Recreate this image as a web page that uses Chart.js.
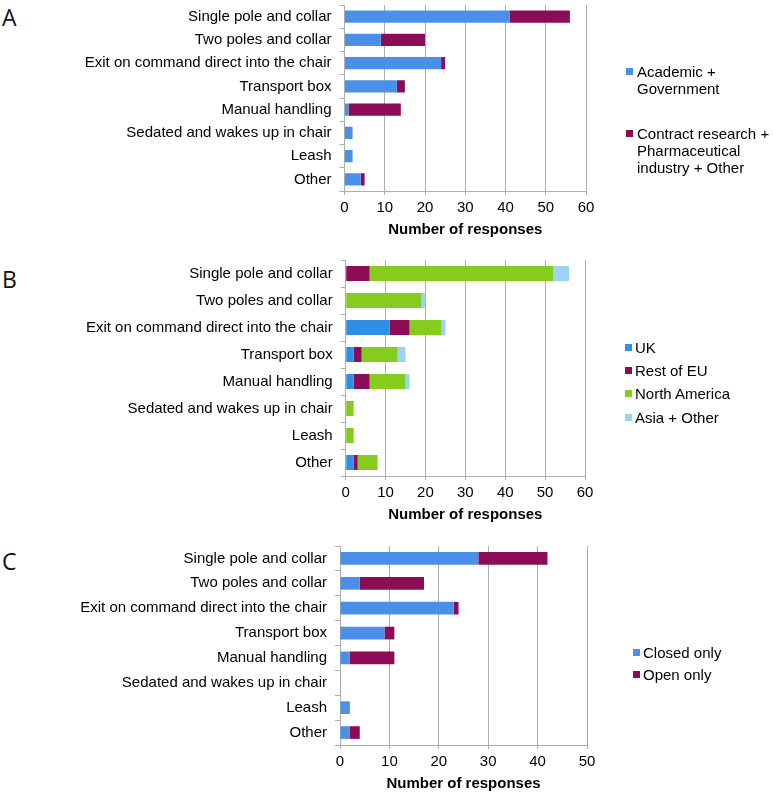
<!DOCTYPE html>
<html>
<head>
<meta charset="utf-8">
<script src="https://cdn.jsdelivr.net/npm/chart.js@4.4.1/dist/chart.umd.min.js"></script>
<style>
  html, body { margin: 0; padding: 0; background: #fff; }
  body { width: 773px; height: 794px; position: relative; overflow: hidden; font-family: "Liberation Sans", Arial, sans-serif; }
  canvas { position: absolute; left: 0; }
  .letter { position: absolute; left: 2px; font-family: "Open Sans", sans-serif; font-size: 23px; line-height: 22px; color: #111; }
  .leg { position: absolute; font-size: 15px; line-height: 17px; color: #000; }
  .sw { position: absolute; width: 7px; height: 7px; }
</style>
</head>
<body>
<div class="letter" style="top:6px">A</div>
<div class="letter" style="top:268px">B</div>
<div class="letter" style="top:550px">C</div>

<canvas id="cA" width="773" height="239" style="top:0px"></canvas>
<canvas id="cB" width="773" height="274" style="top:250px"></canvas>
<canvas id="cC" width="773" height="263" style="top:530px"></canvas>

<div id="legends"></div>

<script>
// ---------- data ----------
const categories = [
  "Single pole and collar",
  "Two poles and collar",
  "Exit on command direct into the chair",
  "Transport box",
  "Manual handling",
  "Sedated and wakes up in chair",
  "Leash",
  "Other"
];

// Panel A
const academicGov      = [41, 9, 24, 13, 1, 2, 2, 4];
const contractPharma   = [15, 11, 1, 2, 13, 0, 0, 1];

// Panel B
const ukValues         = [0, 0, 11, 2, 2, 0, 0, 2];
const restOfEU         = [6, 0, 5, 2, 4, 0, 0, 1];
const northAmerica     = [46, 19, 8, 9, 9, 2, 2, 5];
const asiaOther        = [4, 1, 1, 2, 1, 0, 0, 0];

// Panel C
const closedOnly       = [28, 4, 23, 9, 2, 0, 2, 2];
const openOnly         = [14, 13, 1, 2, 9, 0, 0, 2];

const xTicksA = [0, 10, 20, 30, 40, 50, 60];
const xTicksB = [0, 10, 20, 30, 40, 50, 60];
const xTicksC = [0, 10, 20, 30, 40, 50];

const axisTitle = "Number of responses";

// ---------- styles ----------
const BLUE = "#4B90E8";
const MAROON = "#8B0D55";
const UKBLUE = "#2F8FE6";
const GREEN = "#84CC1E";
const LIGHTBLUE = "#9DD2F6";
const GRID = "#A9AFAF";

Chart.defaults.font.family = '"Liberation Sans", Arial, sans-serif';
Chart.defaults.font.size = 15;
Chart.defaults.color = "#000";

function zeroPad(s) { s.paddingTop = 0; s.paddingBottom = 0; s.paddingLeft = 0; s.paddingRight = 0; }

function makeChart(id, datasets, xTicks, geom) {
  const xMax = xTicks[xTicks.length - 1];
  return new Chart(document.getElementById(id), {
    type: "bar",
    data: { labels: categories, datasets: datasets },
    options: {
      indexAxis: "y",
      responsive: false,
      animation: false,
      devicePixelRatio: 1,
      layout: { padding: { left: 0, top: geom.top, right: 773 - geom.right, bottom: 0 } },
      plugins: { legend: { display: false }, tooltip: { enabled: false } },
      datasets: { bar: { categoryPercentage: 1, barPercentage: geom.bar } },
      scales: {
        x: {
          stacked: true,
          min: 0, max: xMax,
          afterBuildTicks: s => { s.ticks = xTicks.map(v => ({ value: v })); },
          grid: { color: GRID, lineWidth: 1, tickLength: 4, drawTicks: true },
          border: { color: GRID, width: 1 },
          ticks: { padding: 4, font: { size: 15 }, color: "#000" },
          title: { display: true, text: axisTitle, font: { size: 15, weight: "bold" }, color: "#000", padding: { top: 0, bottom: 0 } },
          afterFit: s => { s.height = 48; zeroPad(s); }
        },
        y: {
          stacked: true,
          grid: { drawOnChartArea: false, color: GRID, tickLength: 5 },
          border: { color: GRID, width: 1 },
          ticks: { padding: 8, font: { size: 15 }, color: "#000" },
          afterFit: s => { s.width = geom.left; zeroPad(s); }
        }
      }
    }
  });
}

makeChart("cA", [
  { label: "Academic + Government", data: academicGov, backgroundColor: BLUE },
  { label: "Contract research + Pharmaceutical industry + Other", data: contractPharma, backgroundColor: MAROON }
], xTicksA, { left: 344.5, right: 586, top: 5, bar: 0.53 });

makeChart("cB", [
  { label: "UK", data: ukValues, backgroundColor: UKBLUE },
  { label: "Rest of EU", data: restOfEU, backgroundColor: MAROON },
  { label: "North America", data: northAmerica, backgroundColor: GREEN },
  { label: "Asia + Other", data: asiaOther, backgroundColor: LIGHTBLUE }
], xTicksB, { left: 345.7, right: 585, top: 10, bar: 0.55 });

makeChart("cC", [
  { label: "Closed only", data: closedOnly, backgroundColor: BLUE },
  { label: "Open only", data: openOnly, backgroundColor: MAROON }
], xTicksC, { left: 340, right: 587, top: 16, bar: 0.51 });

// ---------- legends (HTML text) ----------
const legends = [
  { sx: 626, tx: 637, items: [
      { lines: ["Academic +", "Government"], color: BLUE, top: 63 },
      { lines: ["Contract research +", "Pharmaceutical", "industry + Other"], color: MAROON, top: 124.5 } ] },
  { sx: 625, tx: 635, items: [
      { lines: ["UK"], color: UKBLUE, top: 338.5 },
      { lines: ["Rest of EU"], color: MAROON, top: 362 },
      { lines: ["North America"], color: GREEN, top: 385 },
      { lines: ["Asia + Other"], color: LIGHTBLUE, top: 408.5 } ] },
  { sx: 633, tx: 643, items: [
      { lines: ["Closed only"], color: BLUE, top: 644 },
      { lines: ["Open only"], color: MAROON, top: 665.5 } ] }
];
const host = document.getElementById("legends");
legends.forEach(g => {
  g.items.forEach(it => {
    const sw = document.createElement("div");
    sw.className = "sw";
    sw.style.left = g.sx + "px";
    sw.style.top = (it.top + 5) + "px";
    sw.style.background = it.color;
    host.appendChild(sw);
    const t = document.createElement("div");
    t.className = "leg";
    t.style.left = g.tx + "px";
    t.style.top = it.top + "px";
    t.innerHTML = it.lines.join("<br>");
    host.appendChild(t);
  });
});
</script>
</body>
</html>
